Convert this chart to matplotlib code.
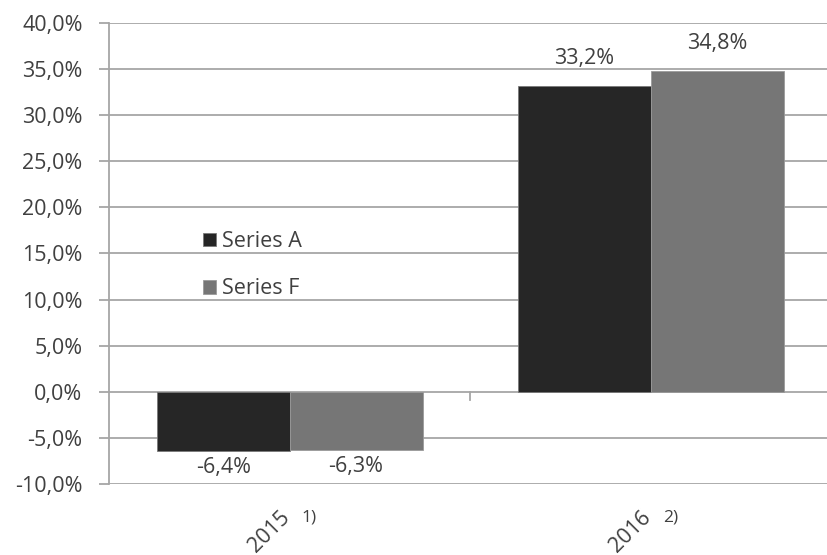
import numpy as np
import matplotlib.pyplot as plt

# data
years = ['2015', '2016']
notes = ['1)', '2)']
series_a = [-6.4, 33.2]
series_f = [-6.3, 34.8]
yticks = [-10, -5, 0, 5, 10, 15, 20, 25, 30, 35, 40]

plt.rcParams['font.family'] = ['Open Sans', 'DejaVu Sans']
txt = '#404040'
grid = '#a6a6a6'
fs = 15.5

fig = plt.figure(figsize=(8.27, 5.55), dpi=100)
# axes in pixel terms: left 109, right ~831, top 23, bottom 484
ax = fig.add_axes([109/827, 1 - 484/555, (831.5 - 109)/827, (484 - 23)/555])

x = np.arange(len(years))
w = 0.368
ba = ax.bar(x - w/2, series_a, w, color='#262626', edgecolor='#7a7a7a', linewidth=0.6, label='Series A', zorder=3)
bf = ax.bar(x + w/2, series_f, w, color='#767676', edgecolor='#9a9a9a', linewidth=0.6, label='Series F', zorder=3)

# value labels, offsets in pixels (dpi 100 -> 0.72 pt per px)
for bars, vals in [(ba, series_a), (bf, series_f)]:
    for b, v in zip(bars, vals):
        s = ('%.1f%%' % v).replace('.', ',')
        cx = b.get_x() + b.get_width()/2
        off = 27 if v >= 0 else -17
        ax.annotate(s, (cx, v), xytext=(0, off*0.72), textcoords='offset points',
                    ha='center', va='center', fontsize=fs, color=txt)

ax.set_xlim(-0.5, 1.5)
ax.set_ylim(-10, 40)
ax.set_yticks(yticks)
ax.set_yticklabels([('%.1f%%' % t).replace('.', ',') for t in yticks], fontsize=fs, color=txt)
ax.tick_params(axis='y', length=7, width=1.3, color=grid, pad=12)
ax.set_xticks([])
ax.grid(axis='y', color=grid, linewidth=1.3, zorder=0)
ax.set_axisbelow(True)
for sp in ['top', 'right', 'bottom']:
    ax.spines[sp].set_visible(False)
ax.spines['left'].set_color(grid)
ax.spines['left'].set_linewidth(1.3)

# small divider tick on the zero line between categories
ax.plot([0.5, 0.5], [0, -0.9], color=grid, linewidth=1.3, zorder=2)

# category labels: rotated year + horizontal footnote
for xi, yr, nt in zip(x, years, notes):
    ax.text(xi + 0.012, -0.05, yr, transform=ax.get_xaxis_transform(), rotation=45,
            ha='right', va='top', fontsize=fs, color=txt)
    ax.text(xi + 0.033, -0.073, nt, transform=ax.get_xaxis_transform(),
            ha='left', va='center', fontsize=12.5, color=txt)

ax.legend(loc='upper left', bbox_to_anchor=(203/827, 1 - 231/555), bbox_transform=fig.transFigure,
          frameon=False, fontsize=fs, labelcolor=txt, handlelength=0.6, handleheight=0.6,
          handletextpad=0.3, labelspacing=1.22, borderpad=0, borderaxespad=0)

plt.savefig('out.png', dpi=100)
